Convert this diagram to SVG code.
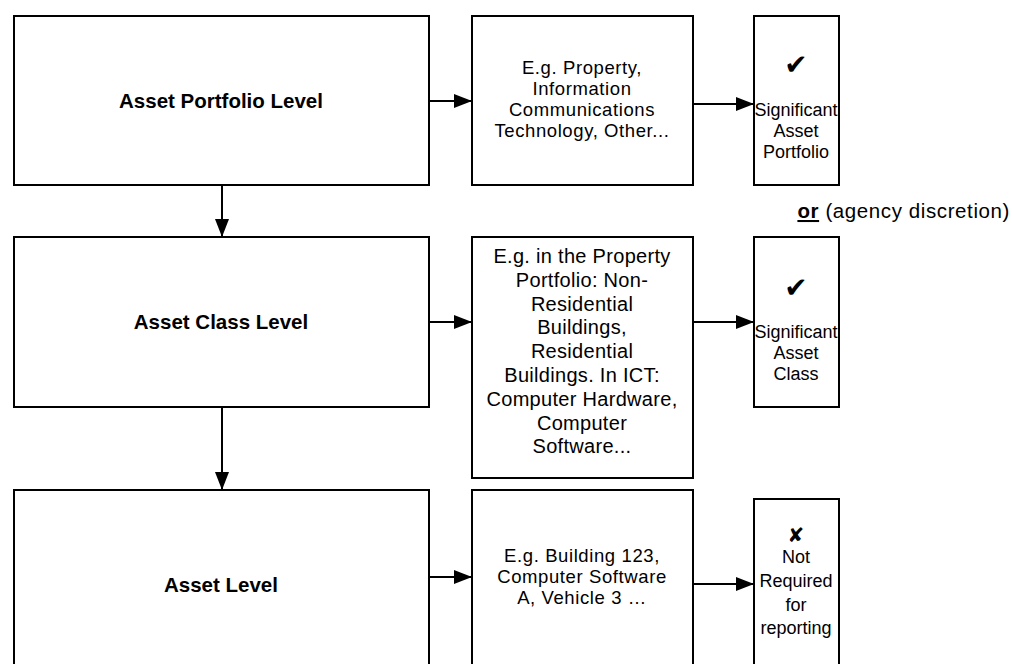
<svg xmlns="http://www.w3.org/2000/svg" width="1012" height="664" viewBox="0 0 1012 664">
<defs>
<style>
.box{fill:#fff;stroke:#000;stroke-width:2}
.t{font-family:"Liberation Sans",Arial,sans-serif;font-size:18px;fill:#000;text-anchor:middle}
.b{font-weight:bold;font-size:20.5px}
.eg{font-size:18.5px;letter-spacing:0.6px}
.egm{font-size:20px;letter-spacing:0.3px}
.sym{font-family:"DejaVu Sans",sans-serif;fill:#000;text-anchor:middle}
.c{stroke:#000;stroke-width:2;fill:none}
</style>
<marker id="ah" markerWidth="18" markerHeight="14" refX="18" refY="7" orient="auto" markerUnits="userSpaceOnUse"><path d="M0,0 L18,7 L0,14 Z" fill="#000"/></marker>
</defs>
<rect width="1012" height="664" fill="#fff"/>
<g id="portfolio-level"><rect class="box" x="14" y="16" width="415" height="169"/><text class="t b" x="221" y="108">Asset Portfolio Level</text></g>
<g id="portfolio-eg"><rect class="box" x="472" y="16" width="221" height="169"/><text class="t eg" x="582" y="74">E.g. Property,<tspan x="582" dy="21">Information</tspan><tspan x="582" dy="21">Communications</tspan><tspan x="582" dy="21">Technology, Other...</tspan></text></g>
<g id="portfolio-sig"><rect class="box" x="754" y="16" width="85" height="169"/><text class="sym" x="796" y="74" font-size="28">✔</text><text class="t" x="796" y="116">Significant<tspan x="796" dy="21">Asset</tspan><tspan x="796" dy="21">Portfolio</tspan></text></g>
<g id="class-level"><rect class="box" x="14" y="237" width="415" height="170"/><text class="t b" x="221" y="329">Asset Class Level</text></g>
<g id="class-eg"><rect class="box" x="472" y="237" width="221" height="241"/><text class="t egm" x="582" y="263">E.g. in the Property<tspan x="582" dy="23.8">Portfolio: Non-</tspan><tspan x="582" dy="23.8">Residential</tspan><tspan x="582" dy="23.8">Buildings,</tspan><tspan x="582" dy="23.8">Residential</tspan><tspan x="582" dy="23.8">Buildings. In ICT:</tspan><tspan x="582" dy="23.8">Computer Hardware,</tspan><tspan x="582" dy="23.8">Computer</tspan><tspan x="582" dy="23.8">Software...</tspan></text></g>
<g id="class-sig"><rect class="box" x="754" y="237" width="85" height="170"/><text class="sym" x="796" y="297" font-size="28">✔</text><text class="t" x="796" y="338">Significant<tspan x="796" dy="21">Asset</tspan><tspan x="796" dy="21">Class</tspan></text></g>
<g id="or-note"><text class="t" x="1010" y="218" style="text-anchor:end;font-size:20.5px;letter-spacing:0.6px"><tspan font-weight="bold" text-decoration="underline">or</tspan> (agency discretion)</text></g>
<g id="asset-level"><rect class="box" x="14" y="490" width="415" height="190"/><text class="t b" x="221" y="592">Asset Level</text></g>
<g id="asset-eg"><rect class="box" x="472" y="490" width="221" height="190"/><text class="t eg" x="582" y="562">E.g. Building 123,<tspan x="582" dy="21">Computer Software</tspan><tspan x="582" dy="21">A, Vehicle 3 …</tspan></text></g>
<g id="asset-not"><rect class="box" x="754" y="499" width="85" height="190"/><text class="sym" x="796" y="542" font-size="20">✘</text><text class="t" x="796" y="563">Not<tspan x="796" dy="24">Required</tspan><tspan x="796" dy="24">for</tspan><tspan x="796" dy="23">reporting</tspan></text></g>
<g id="connectors">
<line class="c" x1="429" y1="101" x2="472" y2="101" marker-end="url(#ah)"/>
<line class="c" x1="693" y1="104" x2="754" y2="104" marker-end="url(#ah)"/>
<line class="c" x1="222" y1="185" x2="222" y2="237" marker-end="url(#ah)"/>
<line class="c" x1="429" y1="322" x2="472" y2="322" marker-end="url(#ah)"/>
<line class="c" x1="693" y1="322" x2="754" y2="322" marker-end="url(#ah)"/>
<line class="c" x1="222" y1="407" x2="222" y2="490" marker-end="url(#ah)"/>
<line class="c" x1="429" y1="577" x2="472" y2="577" marker-end="url(#ah)"/>
<line class="c" x1="693" y1="584" x2="754" y2="584" marker-end="url(#ah)"/>
</g>
</svg>
